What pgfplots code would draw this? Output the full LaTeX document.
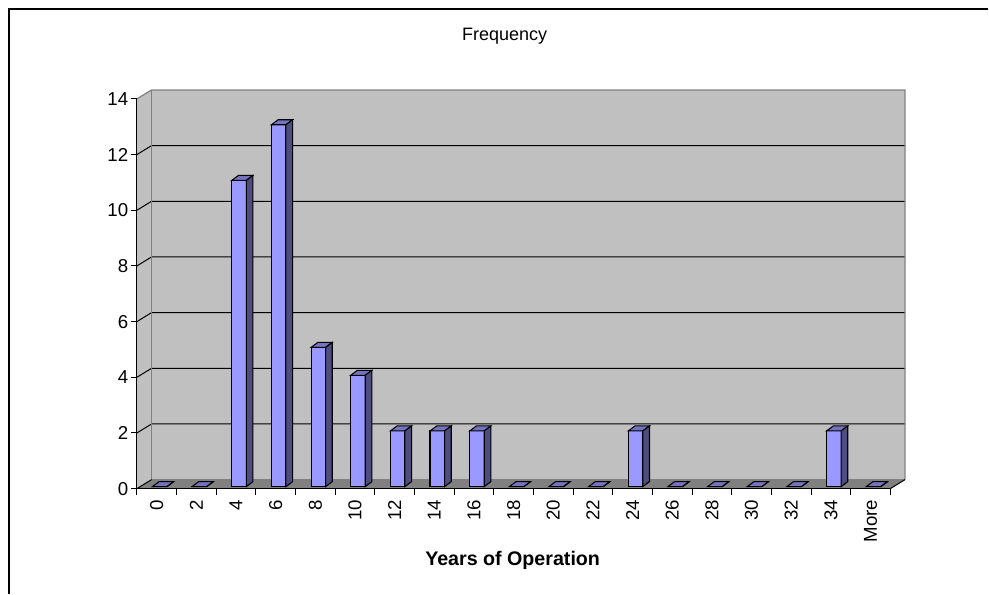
\documentclass[border=0pt]{standalone}
\usepackage{pgfplots}
\usepackage{pgfplotstable}
\pgfplotsset{compat=1.18}
\usepackage{fontspec}
\setmainfont{Liberation Sans}
\definecolor{barfront}{HTML}{9999FF}
\definecolor{bartop}{HTML}{7373BF}
\definecolor{barside}{HTML}{4D4D80}
\definecolor{wall}{HTML}{C0C0C0}
\definecolor{floorc}{HTML}{808080}
\definecolor{walledge}{HTML}{808080}

\pgfdeclareplotmark{box3d}{%
  \pgfmathsetmacro\H{\hval*20.893}%
  \pgfsetfillcolor{bartop}%
  \pgfpathmoveto{\pgfpoint{-3.2pt}{1.5pt}}%
  \pgfpathlineto{\pgfpoint{7.7pt}{1.5pt}}%
  \pgfpathlineto{\pgfpoint{12.7pt}{5.25pt}}%
  \pgfpathlineto{\pgfpoint{1.8pt}{5.25pt}}%
  \pgfpathclose
  \pgfusepath{fill,stroke}%
  \pgfsetfillcolor{barside}%
  \pgfpathmoveto{\pgfpoint{7.7pt}{1.5pt-\H pt}}%
  \pgfpathlineto{\pgfpoint{12.7pt}{5.25pt-\H pt}}%
  \pgfpathlineto{\pgfpoint{12.7pt}{5.25pt}}%
  \pgfpathlineto{\pgfpoint{7.7pt}{1.5pt}}%
  \pgfpathclose
  \pgfusepath{fill,stroke}%
}

\pgfplotstableread{
x y
0 0
1 0
2 11
3 13
4 5
5 4
6 2
7 2
8 2
9 0
10 0
11 0
12 2
13 0
14 0
15 0
16 0
17 2
18 0
}\freqdata

\begin{document}
\begin{tikzpicture}
\path (0,0) rectangle (741.75pt,445.5pt);
\draw[line width=1.1pt] (6.75pt,0) -- (6.75pt,438.75pt) -- (741.75pt,438.75pt);
\begin{axis}[
  at={(102.75pt,78.75pt)}, anchor=south west,
  scale only axis, width=565.5pt, height=292.5pt,
  xmin=-0.5, xmax=18.5, ymin=0, ymax=14,
  clip=false, set layers,
  axis x line*=bottom, axis y line*=left,
  axis line style={black, line width=0.75pt, -},
  tick align=outside, major tick length=4.5pt,
  tick style={black, line width=0.75pt},
  xtick={-0.5,0.5,...,18.5}, xticklabels={},
  extra x ticks={0,1,...,18},
  extra x tick labels={0,2,4,6,8,10,12,14,16,18,20,22,24,26,28,30,32,34,More},
  extra x tick style={major tick length=0pt, tick label style={yshift=-5pt, rotate=90, anchor=east, font=\fontsize{14}{16}\selectfont}},
  ytick={0,2,...,14},
  yticklabels={0,2,4,6,8,10,12,14},
  yticklabel style={font=\fontsize{14}{16}\selectfont, anchor=east, xshift=1.5pt},
]
\begin{pgfonlayer}{axis background}
  \fill[wall] ([shift={(11pt,6.75pt)}]axis cs:-0.5,0) rectangle ([shift={(11pt,6.75pt)}]axis cs:18.5,14);
  \fill[wall] (axis cs:-0.5,0) -- ([shift={(11pt,6.75pt)}]axis cs:-0.5,0) -- ([shift={(11pt,6.75pt)}]axis cs:-0.5,14) -- (axis cs:-0.5,14) -- cycle;
  \fill[floorc] (axis cs:-0.5,0) -- (axis cs:18.5,0) -- ([shift={(11pt,6.75pt)}]axis cs:18.5,0) -- ([shift={(11pt,6.75pt)}]axis cs:-0.5,0) -- cycle;
  \pgfplotsinvokeforeach{2,4,...,12}{
    \draw[black, line width=0.75pt] (axis cs:-0.5,#1) -- ([shift={(11pt,6.75pt)}]axis cs:-0.5,#1) -- ([shift={(11pt,6.75pt)}]axis cs:18.5,#1);
  }
  \draw[walledge, line width=0.9pt] (axis cs:-0.5,14) -- ([shift={(11pt,6.75pt)}]axis cs:-0.5,14) -- ([shift={(11pt,6.75pt)}]axis cs:18.5,14) -- ([shift={(11pt,6.75pt)}]axis cs:18.5,0);
  \draw[walledge, line width=0.9pt] ([shift={(11pt,6.75pt)}]axis cs:-0.5,14) -- ([shift={(11pt,6.75pt)}]axis cs:-0.5,0) -- ([shift={(11pt,6.75pt)}]axis cs:18.5,0);
  \draw[black, line width=0.75pt] (axis cs:-0.5,0) -- ([shift={(11pt,6.75pt)}]axis cs:-0.5,0);
  \draw[black, line width=0.75pt] (axis cs:18.5,0) -- ([shift={(11pt,6.75pt)}]axis cs:18.5,0);
\end{pgfonlayer}
\addplot[ybar, bar width=10.95pt, bar shift=2.25pt, yshift=1.5pt, fill=barfront, draw=black, line width=0.8pt] table[x=x, y=y] {\freqdata};
\addplot[scatter, only marks, mark=box3d,
  mark options={draw=black, line width=0.8pt},
  scatter/@pre marker code/.code={}, scatter/@post marker code/.code={},
  visualization depends on={rawy \as \hval}] table[x=x, y=y] {\freqdata};
\end{axis}
\node[anchor=base, font=\fontsize{13.5}{16}\selectfont] at (378.75pt,414.75pt) {Frequency};
\node[anchor=base, font=\fontsize{14.75}{17}\selectfont\bfseries] at (384.75pt,21pt) {Years of Operation};
\end{tikzpicture}
\end{document}
